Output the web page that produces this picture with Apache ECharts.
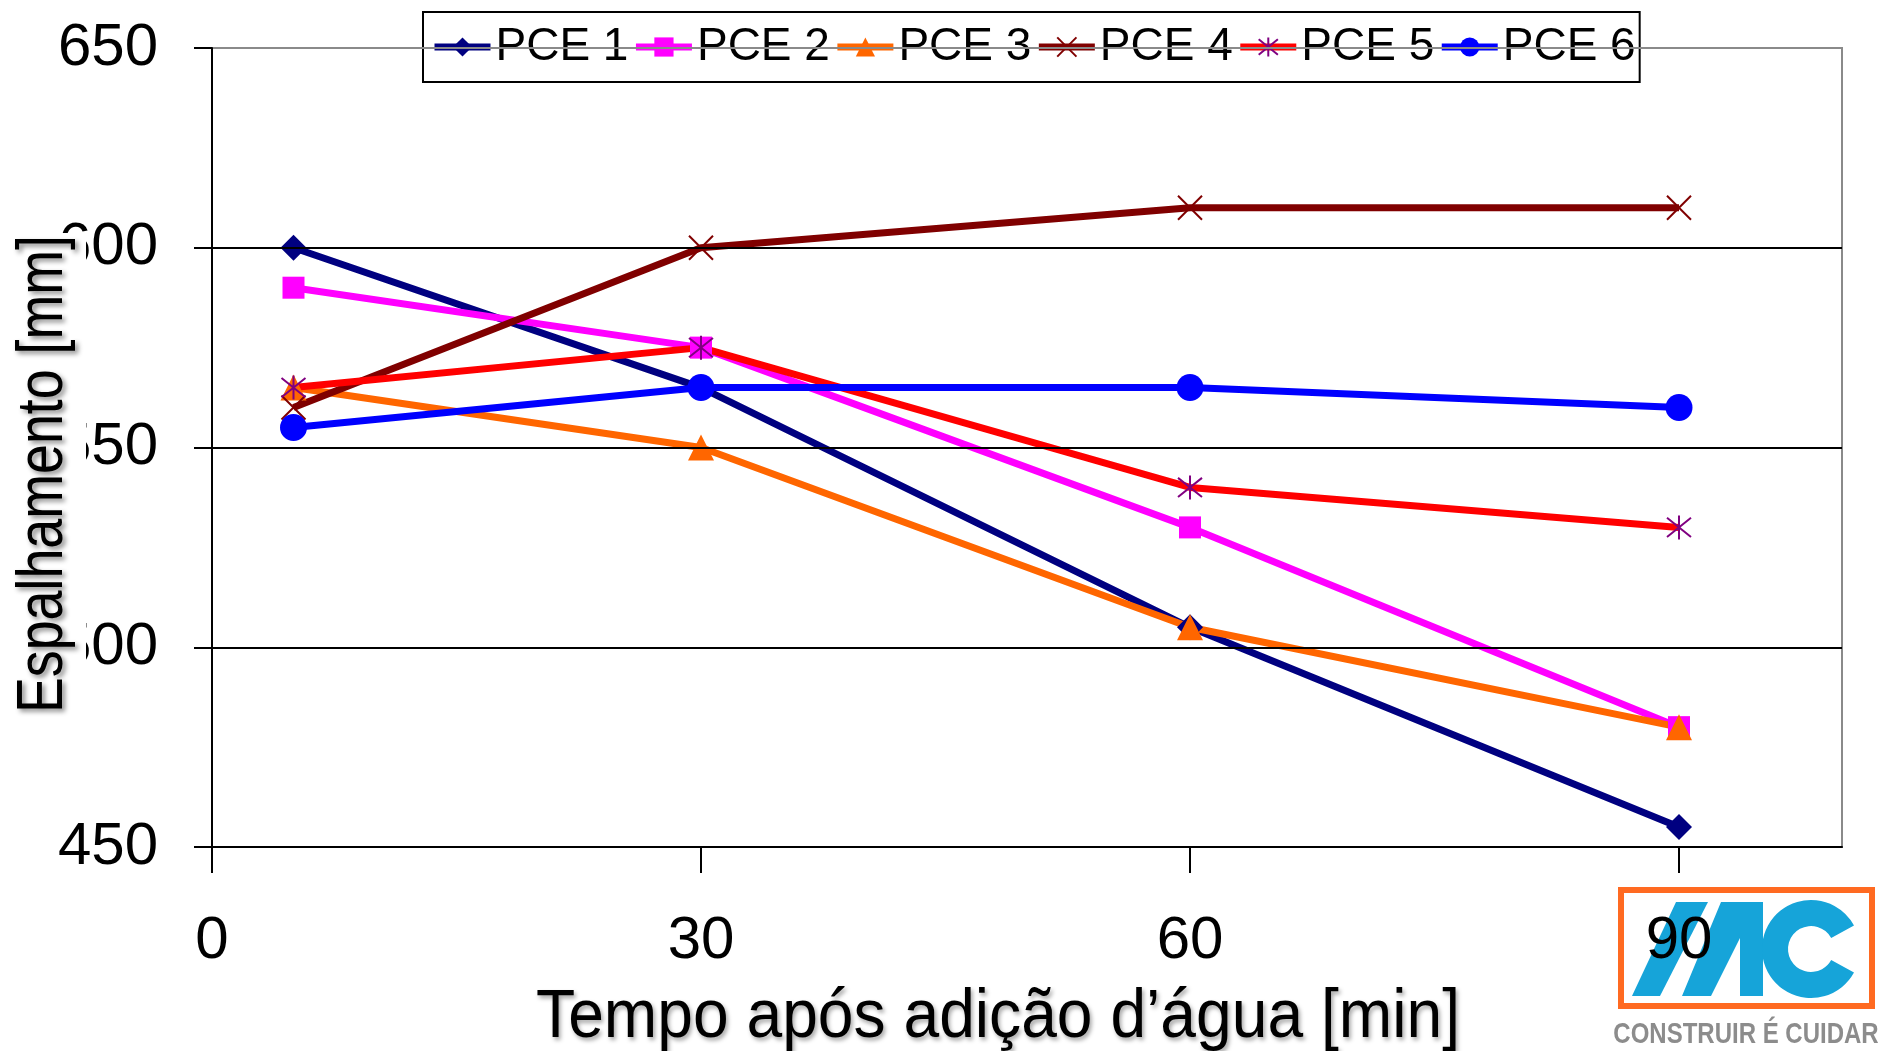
<!DOCTYPE html>
<html>
<head>
<meta charset="utf-8">
<script src="https://cdn.jsdelivr.net/npm/echarts@6/dist/echarts.min.js"></script>
<style>
  html, body { margin: 0; padding: 0; background: #fff; }
  #chart { width: 1878px; height: 1051px; }
</style>
</head>
<body>
<div id="chart"></div>
<script>
// tempo após adição d'água [min]
const tempos = [5, 30, 60, 90]
const pce1 = [600, 565, 505, 455]
const pce2 = [590, 575, 530, 480]
const pce3 = [565, 550, 505, 480]
const pce4 = [560, 600, 610, 610]
const pce5 = [565, 575, 540, 530]
const pce6 = [555, 565, 565, 560]
const xTicks = [0, 30, 60, 90]

const FONT = "'Liberation Sans', Arial, sans-serif"

function pares(ys) {
  return tempos.map((t, i) => [t, ys[i]])
}

function serie(nome, ys, cor, simbolo, tam, corMarca) {
  return {
    name: nome,
    type: 'line',
    data: pares(ys),
    symbol: simbolo,
    symbolSize: tam,
    showAllSymbol: true,
    lineStyle: { color: cor, width: 7 },
    itemStyle: { color: corMarca || cor, borderColor: corMarca || cor, borderWidth: corMarca ? 2 : 0 },
    emphasis: { disabled: true },
    animation: false
  }
}

const chart = echarts.init(document.getElementById('chart'))

chart.setOption({
  backgroundColor: '#fff',
  animation: false,
  grid: {
    left: 212, right: 36, top: 48, bottom: 204,
    containLabel: false,
    outerBoundsMode: 'none',
    show: true, borderColor: '#8a8a8a', borderWidth: 2
  },
  legend: {
    left: 423, top: 12,
    padding: [12, 4, 12, 8],
    itemGap: 4,
    itemWidth: 56,
    itemHeight: 24,
    borderColor: '#000', borderWidth: 2,
    backgroundColor: '#fff',
    lineStyle: { width: 7 },
    textStyle: { fontFamily: FONT, fontSize: 46, color: '#000' }
  },
  xAxis: {
    type: 'value', min: 0, max: 100, interval: 30,
    z: 5,
    splitLine: { show: false },
    axisLine: { onZero: false, lineStyle: { color: '#000', width: 2 } },
    axisTick: { length: 26, customValues: xTicks, lineStyle: { color: '#000', width: 2 } },
    axisLabel: { customValues: xTicks, margin: 64, fontFamily: FONT, fontSize: 60, color: '#000' }
  },
  yAxis: {
    type: 'value', min: 450, max: 650, interval: 50,
    z: 5,
    axisLine: { show: true, lineStyle: { color: '#000', width: 2 } },
    axisTick: { show: true, length: 18, lineStyle: { color: '#000', width: 2 } },
    splitLine: { show: true, lineStyle: { color: ['#000', '#000', '#000', '#000', '#8a8a8a'], width: 2 } },
    axisLabel: { margin: 54, fontFamily: FONT, fontSize: 60, color: '#000' }
  },
  graphic: [
    // caixa branca do título do eixo Y (cobre parte dos rótulos, como no original)
    { type: 'rect', z: 20, shape: { x: 0, y: 233, width: 86, height: 480 }, style: { fill: '#fff' } },
    {
      type: 'text', z: 21, x: 44, y: 474, rotation: Math.PI / 2, scaleX: 0.84,
      style: {
        text: 'Espalhamento [mm]', fontFamily: FONT, fontSize: 64, fill: '#000',
        align: 'center', verticalAlign: 'middle',
        textShadowColor: 'rgba(0,0,0,0.45)', textShadowBlur: 5, textShadowOffsetX: 3, textShadowOffsetY: 3
      }
    },
    {
      type: 'text', z: 21, x: 998, y: 1018, scaleX: 0.93,
      style: {
        text: 'Tempo após adição d’água [min]', fontFamily: FONT, fontSize: 69, fill: '#000',
        align: 'center', verticalAlign: 'middle',
        textShadowColor: 'rgba(0,0,0,0.35)', textShadowBlur: 4, textShadowOffsetX: 2, textShadowOffsetY: 3
      }
    },
    // logo MC
    {
      type: 'group', z: 0,
      children: [
        { type: 'rect', shape: { x: 1621, y: 890, width: 251, height: 116 }, style: { fill: '#fff', stroke: '#ff6a21', lineWidth: 6 } },
        { type: 'polygon', shape: { points: [[1632, 996], [1660, 996], [1708, 902], [1676, 902]] }, style: { fill: '#16a4d9' } },
        { type: 'polygon', shape: { points: [[1682, 996], [1711, 996], [1740, 938], [1740, 996], [1763, 996], [1763, 902], [1721, 902]] }, style: { fill: '#16a4d9' } },
        {
          type: 'sector',
          shape: { cx: 1811, cy: 949, r: 49, r0: 23, startAngle: 0.5, endAngle: Math.PI * 2 - 0.5, clockwise: true },
          style: { fill: '#16a4d9' }
        },
        {
          type: 'text', x: 1746, y: 1035, scaleX: 0.8,
          style: {
            text: 'CONSTRUIR É CUIDAR', fontFamily: FONT, fontWeight: 'bold', fontSize: 30,
            fill: '#8c8c8c', align: 'center', verticalAlign: 'middle'
          }
        }
      ]
    }
  ],
  series: [
    serie('PCE 1', pce1, '#000080', 'diamond', 26),
    serie('PCE 2', pce2, '#ff00ff', 'rect', 22),
    serie('PCE 3', pce3, '#ff6600', 'triangle', 26),
    serie('PCE 4', pce4, '#800000', 'path://M0,0L10,10M10,0L0,10', 24, '#800000'),
    serie('PCE 5', pce5, '#ff0000', 'path://M5,0L5,10M0,1L10,9M10,1L0,9', 24, '#800080'),
    serie('PCE 6', pce6, '#0000ff', 'circle', 27)
  ]
})
</script>
</body>
</html>
